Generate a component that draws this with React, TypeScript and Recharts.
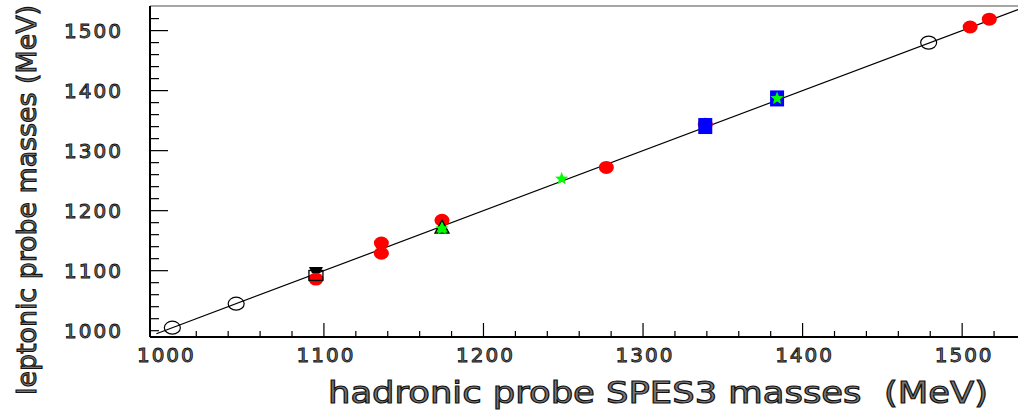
import { ScatterChart, Scatter, XAxis, YAxis, ReferenceLine } from "recharts";

// axis ticks (every 20 MeV, labels every 100)
const xTicks = [1000, 1020, 1040, 1060, 1080, 1100, 1120, 1140, 1160, 1180, 1200, 1220, 1240, 1260, 1280, 1300, 1320, 1340, 1360, 1380, 1400, 1420, 1440, 1460, 1480, 1500, 1520];
const yTicks = [1000, 1020, 1040, 1060, 1080, 1100, 1120, 1140, 1160, 1180, 1200, 1220, 1240, 1260, 1280, 1300, 1320, 1340, 1360, 1380, 1400, 1420, 1440, 1460, 1480, 1500, 1520];
const labelTicks = [1000, 1100, 1200, 1300, 1400, 1500];

// y = x reference line
const diagonal = [
  { x: 995, y: 995 },
  { x: 1535, y: 1535 },
];

const openCircles = [
  { x: 1005, y: 1005 },
  { x: 1045, y: 1045 },
  { x: 1479, y: 1480 },
];

const redDots = [
  { x: 1095, y: 1086 },
  { x: 1136, y: 1146 },
  { x: 1136, y: 1129 },
  { x: 1174, y: 1184 },
  { x: 1277, y: 1272 },
  { x: 1339, y: 1344 },
  { x: 1505, y: 1506 },
  { x: 1517, y: 1519 },
];

const blueSquares = [
  { x: 1339, y: 1341 },
  { x: 1384, y: 1387 },
];

const openSquares = [{ x: 1095, y: 1092 }];
const blackCaps = [{ x: 1095, y: 1101 }];
const greenTriangles = [{ x: 1174, y: 1171 }];
const greenStars = [
  { x: 1174, y: 1170 },
  { x: 1249, y: 1253 },
  { x: 1384, y: 1387 },
];

const FONT = "'DejaVu Sans', sans-serif";
const TEXT_FILL = "#777";

const XTick = (props: any) => {
  const { x, y, payload } = props;
  const v = payload.value;
  const major = labelTicks.includes(v);
  const len = v === 1000 ? 0 : major ? 14 : 6;
  return (
    <g>
      {len > 0 && <line x1={x} y1={y} x2={x} y2={y - len} stroke="#000" strokeWidth={1.2} />}
      {major && (
        <text x={x + 2} y={y + 25} textAnchor="middle" fontFamily={FONT} fontSize={20} letterSpacing={2} fill={TEXT_FILL} stroke="#111" strokeWidth={0.9}>
          {v}
        </text>
      )}
    </g>
  );
};

const YTick = (props: any) => {
  const { x, y, payload } = props;
  const v = payload.value;
  const major = labelTicks.includes(v);
  const len = major && v !== 1000 ? 18 : 9;
  return (
    <g>
      <line x1={x} y1={y} x2={x + len} y2={y} stroke="#000" strokeWidth={1.2} />
      {major && (
        <text x={x - 27} y={y + 7} textAnchor="end" fontFamily={FONT} fontSize={20} letterSpacing={2} fill={TEXT_FILL} stroke="#111" strokeWidth={0.9}>
          {v}
        </text>
      )}
    </g>
  );
};

const OpenCircle = (p: any) => <ellipse cx={p.cx} cy={p.cy} rx={8} ry={6.5} fill="none" stroke="#000" strokeWidth={1.2} />;
const RedDot = (p: any) => <ellipse cx={p.cx} cy={p.cy} rx={7.5} ry={6.5} fill="#ff0000" />;
const BlueSquare = (p: any) => <rect x={p.cx - 7} y={p.cy - 8} width={14} height={16} fill="#0000ff" />;
const OpenSquare = (p: any) => <rect x={p.cx - 7} y={p.cy - 5} width={14} height={10} fill="none" stroke="#000" strokeWidth={1.3} />;
const BlackCap = (p: any) => (
  <polygon points={`${p.cx - 7},${p.cy - 3} ${p.cx + 7},${p.cy - 3} ${p.cx + 4},${p.cy + 3} ${p.cx - 4},${p.cy + 3}`} fill="#000" />
);
const GreenTriangle = (p: any) => (
  <polygon points={`${p.cx},${p.cy - 8} ${p.cx + 7},${p.cy + 5} ${p.cx - 7},${p.cy + 5}`} fill="#00ee00" stroke="#000" strokeWidth={1.3} />
);
const GreenStar = (p: any) => {
  const pts: string[] = [];
  for (let i = 0; i < 10; i++) {
    const r = i % 2 === 0 ? 7 : 3;
    const a = -Math.PI / 2 + (i * Math.PI) / 5;
    pts.push(`${p.cx + r * Math.cos(a)},${p.cy + r * Math.sin(a)}`);
  }
  return <polygon points={pts.join(" ")} fill="#00ff00" />;
};

export default function App() {
  return (
    <div style={{ position: "absolute", left: 0, top: 0, width: 1020, height: 414, background: "#fff" }}>
      <ScatterChart width={1020} height={414} margin={{ top: 6, right: 2, bottom: 0, left: 0 }}>
        <XAxis
          dataKey="x"
          type="number"
          domain={[991, 1535]}
          allowDataOverflow
          ticks={xTicks}
          interval={0}
          tick={<XTick />}
          tickLine={false}
          tickSize={0}
          tickMargin={0}
          axisLine={{ stroke: "#000", strokeWidth: 2 }}
          height={77}
        />
        <YAxis
          dataKey="y"
          type="number"
          domain={[989.5, 1541]}
          allowDataOverflow
          ticks={yTicks}
          interval={0}
          tick={<YTick />}
          tickLine={false}
          tickSize={0}
          tickMargin={0}
          axisLine={{ stroke: "#000", strokeWidth: 2 }}
          width={150}
        />
        <ReferenceLine y={1541} stroke="#888" strokeWidth={1.5} ifOverflow="visible" />
        <ReferenceLine segment={diagonal} stroke="#000" strokeWidth={1.2} ifOverflow="visible" />
        <Scatter data={openCircles} shape={OpenCircle} isAnimationActive={false} />
        <Scatter data={redDots} shape={RedDot} isAnimationActive={false} />
        <Scatter data={blueSquares} shape={BlueSquare} isAnimationActive={false} />
        <Scatter data={openSquares} shape={OpenSquare} isAnimationActive={false} />
        <Scatter data={blackCaps} shape={BlackCap} isAnimationActive={false} />
        <Scatter data={greenTriangles} shape={GreenTriangle} isAnimationActive={false} />
        <Scatter data={greenStars} shape={GreenStar} isAnimationActive={false} />
        <text x={658} y={403} textAnchor="middle" fontFamily={FONT} fontSize={30} textLength={660} lengthAdjust="spacingAndGlyphs" fill={TEXT_FILL} stroke="#111" strokeWidth={1.1} style={{ whiteSpace: "pre" }}>
          hadronic probe SPES3 masses  (MeV)
        </text>
        <text x={36} y={200} transform="rotate(-90 36 200)" textAnchor="middle" fontFamily={FONT} fontSize={27} textLength={390} lengthAdjust="spacingAndGlyphs" fill={TEXT_FILL} stroke="#111" strokeWidth={1.1}>
          leptonic probe masses (MeV)
        </text>
      </ScatterChart>
    </div>
  );
}
